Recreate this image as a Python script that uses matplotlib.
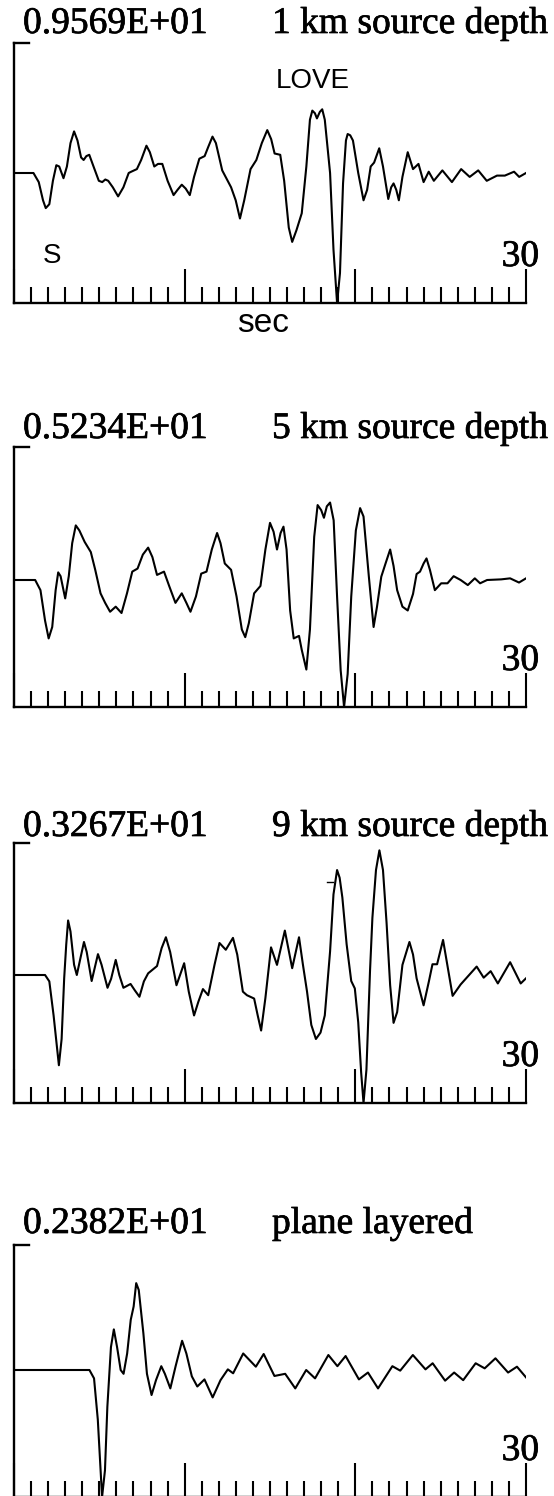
import matplotlib.pyplot as plt
import matplotlib.patheffects as pe
from matplotlib.ticker import MultipleLocator

# ==== traces: (time s, amplitude as a fraction of the peak value) ====
peaks = [9.569, 5.234, 3.267, 2.382]
titles = ['1 km source depth', '5 km source depth', '9 km source depth', 'plane layered']

trace1 = [(0, 0), (1.14, 0), (1.45, -0.07), (1.7, -0.21), (1.86, -0.27), (2.07, -0.24),
          (2.28, -0.06), (2.48, 0.06), (2.65, 0.05), (2.9, -0.04), (3.1, 0.05), (3.31, 0.23),
          (3.52, 0.32), (3.72, 0.25), (3.93, 0.12), (4.08, 0.10), (4.24, 0.13), (4.41, 0.14),
          (4.66, 0.05), (4.97, -0.06), (5.17, -0.07), (5.35, -0.05), (5.52, -0.06), (5.79, -0.11),
          (6.1, -0.18), (6.41, -0.11), (6.72, 0.0), (6.87, 0.01), (7.2, 0.03), (7.45, 0.10),
          (7.76, 0.21), (7.96, 0.16), (8.22, 0.05), (8.44, 0.07), (8.69, 0.07), (9.0, -0.06),
          (9.35, -0.17), (9.58, -0.13), (9.83, -0.09), (10.06, -0.12), (10.3, -0.17), (10.55, -0.03),
          (10.86, 0.11), (11.17, 0.13), (11.38, 0.2), (11.63, 0.28), (11.83, 0.23), (12.2, 0.02),
          (12.72, -0.11), (12.99, -0.21), (13.24, -0.35), (13.49, -0.21), (13.86, 0.03), (14.2, 0.10),
          (14.52, 0.23), (14.84, 0.33), (15.07, 0.26), (15.27, 0.15), (15.6, 0.14), (15.83, -0.06),
          (16.1, -0.42), (16.3, -0.53), (16.55, -0.44), (16.86, -0.31), (17.13, 0.05), (17.34, 0.41),
          (17.48, 0.48), (17.63, 0.46), (17.75, 0.42), (17.92, 0.47), (18.06, 0.49), (18.21, 0.41),
          (18.52, 0.0), (18.72, -0.59), (18.93, -1.0), (19.1, -0.77), (19.28, -0.08), (19.45, 0.25),
          (19.55, 0.30), (19.7, 0.29), (19.86, 0.25), (20.17, 0.0), (20.48, -0.21), (20.69, -0.13),
          (20.9, 0.05), (21.1, 0.08), (21.4, 0.19), (21.62, 0.05), (21.93, -0.20), (22.1, -0.11),
          (22.24, -0.08), (22.4, -0.13), (22.55, -0.21), (22.76, -0.03), (23.07, 0.16), (23.38, 0.03),
          (23.7, 0.07), (24.0, -0.07), (24.3, 0.01), (24.6, -0.06), (25.1, 0.02), (25.66, -0.07),
          (26.2, 0.03), (26.7, -0.03), (27.2, 0.02), (27.7, -0.06), (28.3, -0.02), (28.76, -0.02),
          (29.3, 0.01), (29.6, -0.03), (30.0, 0.0)]

trace2 = [(0, 0), (1.24, 0), (1.55, -0.08), (1.82, -0.32), (2.03, -0.46), (2.24, -0.37),
          (2.44, -0.08), (2.59, 0.06), (2.73, 0.03), (3.0, -0.145), (3.21, 0.03), (3.41, 0.29),
          (3.62, 0.43), (3.83, 0.39), (4.14, 0.30), (4.5, 0.22), (4.76, 0.08), (5.07, -0.105),
          (5.34, -0.18), (5.63, -0.25), (5.96, -0.21), (6.3, -0.26), (6.62, -0.105), (6.93, 0.066),
          (7.24, 0.09), (7.55, 0.2), (7.86, 0.255), (8.11, 0.18), (8.38, 0.04), (8.79, 0.066),
          (9.1, -0.05), (9.46, -0.18), (9.83, -0.105), (10.1, -0.18), (10.34, -0.25), (10.66, -0.13),
          (10.97, 0.05), (11.28, 0.066), (11.59, 0.24), (11.9, 0.37), (12.1, 0.29), (12.35, 0.13),
          (12.72, 0.08), (13.04, -0.13), (13.35, -0.39), (13.55, -0.45), (13.76, -0.34), (14.07, -0.105),
          (14.44, -0.047), (14.73, 0.24), (15.0, 0.45), (15.21, 0.38), (15.41, 0.24), (15.62, 0.37),
          (15.79, 0.42), (15.97, 0.24), (16.18, -0.24), (16.39, -0.46), (16.7, -0.44), (16.86, -0.55),
          (17.13, -0.705), (17.34, -0.39), (17.59, 0.34), (17.79, 0.59), (18.0, 0.55), (18.16, 0.49),
          (18.33, 0.58), (18.52, 0.61), (18.73, 0.47), (18.93, -0.13), (19.14, -0.71), (19.34, -1.0),
          (19.55, -0.74), (19.76, -0.13), (20.03, 0.39), (20.28, 0.566), (20.48, 0.5), (20.79, 0.03),
          (21.07, -0.37), (21.27, -0.21), (21.52, 0.026), (21.77, 0.13), (22.04, 0.24), (22.24, 0.11),
          (22.45, -0.08), (22.76, -0.21), (23.07, -0.24), (23.38, -0.11), (23.59, 0.047), (23.79, 0.066),
          (24.0, 0.13), (24.17, 0.17), (24.37, 0.08), (24.66, -0.08), (25.03, -0.026), (25.4, -0.026),
          (25.76, 0.03), (26.17, 0.0), (26.59, -0.04), (27.0, 0.013), (27.31, -0.026), (27.72, 0.0),
          (28.55, 0.005), (29.07, 0.013), (29.59, -0.02), (30.0, 0.013)]

trace3 = [(0, 0), (1.82, 0), (2.07, -0.05), (2.32, -0.316), (2.63, -0.705), (2.79, -0.5),
          (2.94, -0.026), (3.06, 0.237), (3.17, 0.426), (3.31, 0.34), (3.52, 0.08), (3.68, 0.0),
          (3.89, 0.13), (4.1, 0.258), (4.26, 0.18), (4.55, -0.047), (4.72, 0.05), (4.92, 0.163),
          (5.13, 0.08), (5.48, -0.10), (5.69, -0.03), (5.96, 0.118), (6.17, 0.0), (6.41, -0.10),
          (6.83, -0.07), (7.08, -0.12), (7.35, -0.17), (7.61, -0.05), (7.86, 0.013), (8.38, 0.07),
          (8.65, 0.21), (8.9, 0.295), (9.15, 0.18), (9.52, -0.08), (9.97, 0.092), (10.24, -0.13),
          (10.55, -0.316), (10.8, -0.21), (11.07, -0.11), (11.38, -0.158), (11.75, 0.08), (12.04, 0.25),
          (12.41, 0.197), (12.83, 0.29), (13.08, 0.16), (13.41, -0.13), (13.65, -0.158), (14.07, -0.184),
          (14.28, -0.316), (14.48, -0.434), (14.73, -0.18), (15.06, 0.216), (15.41, 0.079), (15.87, 0.347),
          (16.3, 0.053), (16.7, 0.295), (16.93, 0.08), (17.17, -0.13), (17.42, -0.39), (17.69, -0.50),
          (17.96, -0.45), (18.21, -0.316), (18.52, 0.184), (18.72, 0.63), (18.93, 0.82), (19.08, 0.76),
          (19.24, 0.605), (19.49, 0.24), (19.76, -0.047), (19.97, -0.105), (20.17, -0.37), (20.34, -0.76),
          (20.48, -1.0), (20.65, -0.74), (20.86, 0.03), (21.0, 0.447), (21.21, 0.82), (21.41, 0.974),
          (21.62, 0.82), (21.83, 0.408), (22.04, -0.08), (22.24, -0.374), (22.45, -0.29), (22.76, 0.079),
          (23.17, 0.258), (23.38, 0.16), (23.59, -0.026), (24.0, -0.237), (24.31, -0.05), (24.52, 0.084),
          (24.79, 0.084), (25.14, 0.274), (25.7, -0.163), (26.17, -0.074), (27.11, 0.066), (27.52, -0.021),
          (27.93, 0.03), (28.35, -0.066), (29.07, 0.10), (29.69, -0.066), (30.0, -0.026)]

trace4 = [(0, 0), (4.42, 0), (4.69, -0.066), (4.91, -0.39), (5.16, -1.0), (5.33, -0.79),
          (5.47, -0.29), (5.68, 0.18), (5.85, 0.32), (6.04, 0.18), (6.25, 0.0), (6.42, -0.03),
          (6.63, 0.13), (6.84, 0.395), (7.01, 0.5), (7.16, 0.684), (7.31, 0.63), (7.58, 0.29),
          (7.79, -0.03), (8.06, -0.197), (8.32, -0.08), (8.63, 0.03), (8.84, -0.03), (9.16, -0.145),
          (9.47, 0.03), (9.85, 0.23), (10.1, 0.13), (10.42, -0.05), (10.74, -0.13), (11.16, -0.074),
          (11.64, -0.216), (12.1, -0.08), (12.53, 0.005), (12.84, -0.026), (13.43, 0.13), (14.17, 0.026),
          (14.63, 0.126), (15.26, -0.047), (15.89, -0.03), (16.48, -0.145), (17.12, 0.0), (17.64, -0.066),
          (18.42, 0.118), (18.95, 0.03), (19.43, 0.11), (20.21, -0.074), (20.74, -0.02), (21.33, -0.145),
          (22.17, 0.03), (22.63, -0.005), (23.37, 0.118), (24.11, 0.005), (24.53, 0.053), (25.26, -0.084),
          (25.79, -0.02), (26.32, -0.08), (27.05, 0.053), (27.58, 0.013), (28.21, 0.092), (28.95, -0.02),
          (29.47, 0.026), (30.0, -0.058)]

traces = [trace1, trace2, trace3, trace4]

# ==== page layout in pixels: label baseline, frame top, zero line, frame bottom ====
W, H = 554, 1496
frames = [(33, 43, 173, 303), (438, 447, 580, 707), (836, 843, 975, 1103), (1233, 1245, 1370, 1497)]
x0, x1 = 14, 526

serif = 'Liberation Serif'
sans = 'Liberation Sans'
ink = [pe.withStroke(linewidth=0.5, foreground='black')]

fig = plt.figure(figsize=(W/100, H/100), dpi=100)

def ftext(x, y, s, **kw):
    fig.text(x/W, 1 - y/H, s, **kw)

for k in range(4):
    lab, top, zero, base = frames[k]
    ax = fig.add_axes([x0/W, 1 - base/H, (x1 - x0)/W, (base - top)/H])
    t = [p[0] for p in traces[k]]
    a = [p[1]*peaks[k] for p in traces[k]]
    ax.plot(t, a, color='black', lw=1.5, solid_joinstyle='round')
    ax.set_xlim(0, 30)
    # zero line sits a bit off-centre in some frames
    ax.set_ylim(-peaks[k], peaks[k]*(zero - top)/(base - zero))

    for s in ['top', 'right']:
        ax.spines[s].set_visible(False)
    for s in ['left', 'bottom']:
        ax.spines[s].set_linewidth(1.7)
        ax.spines[s].set_capstyle('projecting')
    ax.xaxis.set_major_locator(MultipleLocator(10))
    ax.xaxis.set_minor_locator(MultipleLocator(1))
    ax.tick_params(axis='x', which='major', direction='in', length=24.5, width=1.5, labelbottom=False)
    ax.tick_params(axis='x', which='minor', direction='in', length=11.5, width=1.5)
    ax.tick_params(axis='y', left=False, labelleft=False)
    ax.patch.set_visible(False)
    # little cap at the top of the amplitude bar
    ax.plot([0, 0.9], [1, 1], transform=ax.get_xaxis_transform(), color='black', lw=1.7, clip_on=False)

    ftext(23, lab, '%.4fE+01' % (peaks[k]/10), family=serif, fontsize=27, va='baseline', path_effects=ink)
    ftext(272, lab, titles[k], family=serif, fontsize=27, va='baseline', path_effects=ink)
    ftext(539, base - 37, '30', family=serif, fontsize=27, va='baseline', ha='right', path_effects=ink)

# stray pen mark near the 9 km peak
ax3 = fig.axes[2]
ax3.plot([18.35, 18.7], [0.73*peaks[2], 0.73*peaks[2]], color='black', lw=1.0)

ftext(276, 88, 'LOVE', family=sans, fontsize=20, va='baseline')
ftext(43, 263, 'S', family=sans, fontsize=20, va='baseline')
ftext(263, 332, 'sec', family=sans, fontsize=24, va='baseline', ha='center')

fig.savefig('out.png', dpi=100)
